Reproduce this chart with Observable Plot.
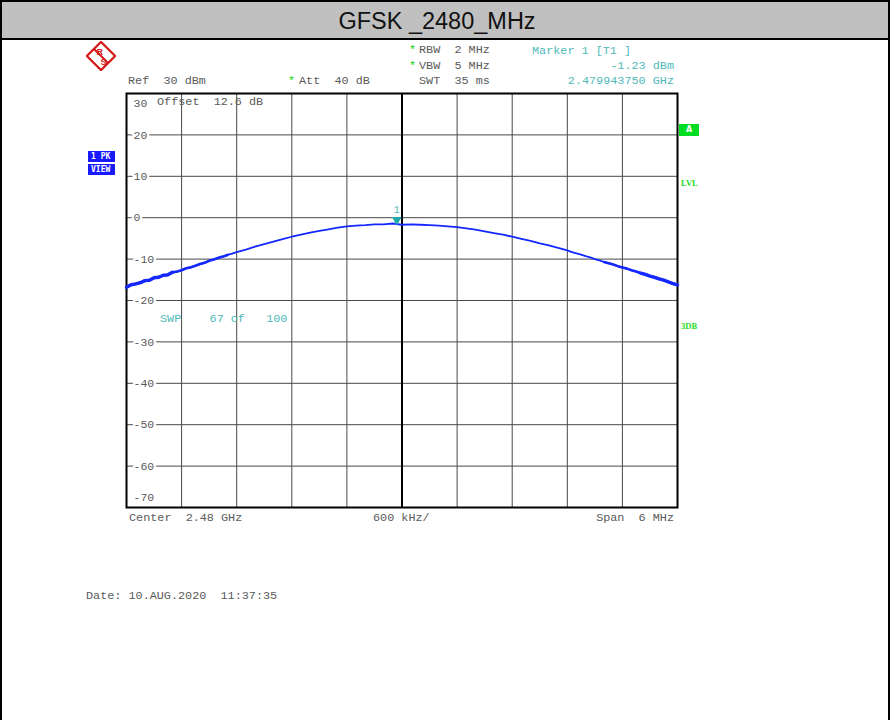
<!DOCTYPE html>
<html><head><meta charset="utf-8">
<script src="https://cdn.jsdelivr.net/npm/d3@7"></script>
<script src="https://cdn.jsdelivr.net/npm/@observablehq/plot@0.6"></script>
<style>
html,body{margin:0;padding:0;background:#fff;}
#page{position:relative;width:890px;height:720px;overflow:hidden;background:#fff;}
.edge{position:absolute;top:0;height:720px;width:2px;background:#000;z-index:3;}
#title{position:absolute;left:0;top:0;width:890px;height:40px;box-sizing:border-box;background:#c0c0c0;border-top:2px solid #000;border-bottom:2px solid #000;z-index:2;}
#title span{position:absolute;left:437px;top:19px;transform:translate(-50%,-50%);font-family:"Liberation Sans",Arial,sans-serif;font-size:23.5px;color:#111;white-space:nowrap;}
#chart{position:absolute;left:0;top:0;z-index:1;}
.t{position:absolute;font-family:"Liberation Mono",monospace;font-size:11.8px;line-height:12px;white-space:pre;color:#5a5a5a;transform:translateY(-50%);z-index:4;}
.teal{color:#4fb9b9;}
.star{color:#10d010;}
.box{position:absolute;font-family:"DejaVu Sans Mono",monospace;font-weight:bold;font-size:8px;line-height:11px;color:#fff;background:#1a1aff;text-align:left;padding-left:3px;box-sizing:border-box;z-index:4;}
.gbox{position:absolute;font-family:"DejaVu Sans",sans-serif;font-weight:bold;font-size:8px;color:#fff;background:#00dd22;text-align:center;z-index:4;}
.glab{position:absolute;font-family:"Liberation Serif",serif;font-weight:bold;font-size:8.5px;color:#22dd22;transform:translateY(-50%);z-index:4;}
</style></head>
<body>
<div id="page">
  <div id="title"><span>GFSK _2480_MHz</span></div>
  <div class="edge" style="left:0"></div>
  <div class="edge" style="left:888px"></div>
  <svg style="position:absolute;left:86px;top:41px;z-index:4" width="30" height="30" viewBox="0 0 30 30">
    <g transform="rotate(45 15 15)" fill="none" stroke="#d41a1a">
      <rect x="5" y="5" width="20" height="20" stroke-width="2.2"/>
      <line x1="5" y1="15" x2="25" y2="15" stroke-width="2"/>
    </g>
    <text x="10.5" y="14" font-family="Liberation Sans" font-size="9" font-weight="bold" fill="#d41a1a">R</text>
    <text x="14.5" y="24" font-family="Liberation Sans" font-size="9" font-weight="bold" fill="#d41a1a">S</text>
  </svg>
  <div id="chart"></div>
</div>
<script>
// ---- data ----
const freqOffsetMHz = [
  -3.00,-2.95,-2.90,-2.85,-2.80,-2.75,-2.70,-2.65,-2.60,-2.55,-2.50,-2.45,-2.40,-2.35,-2.30,-2.25,-2.20,-2.15,-2.10,-2.05,-2.00,-1.95,-1.90,-1.85,-1.80,
  -1.7,-1.6,-1.5,-1.4,-1.3,-1.2,-1.1,-1.0,-0.9,-0.8,-0.7,-0.6,-0.5,-0.4,-0.3,-0.2,-0.1,0.0,0.1,0.2,0.3,0.4,0.5,0.6,0.7,0.8,0.9,1.0,1.1,1.2,1.3,1.4,1.5,
  1.60,1.65,1.70,1.75,1.80,1.85,1.90,1.95,2.00,2.05,2.10,2.15,2.20,2.25,2.30,2.35,2.40,2.45,2.50,2.55,2.60,2.65,2.70,2.75,2.80,2.85,2.90,2.95,3.00
];
const levelDbm = [
  -16.8,-16.2,-16.0,-15.7,-15.2,-15.1,-14.5,-14.4,-13.9,-13.8,-13.2,-13.0,-12.7,-12.2,-12.0,-11.6,-11.2,-10.9,-10.4,-10.1,-9.7,-9.4,-9.0,-8.7,-8.3,
  -7.7,-7.0,-6.4,-5.8,-5.2,-4.6,-4.1,-3.6,-3.2,-2.8,-2.4,-2.1,-1.9,-1.8,-1.6,-1.6,-1.4,-1.7,-1.6,-1.7,-1.8,-1.9,-2.1,-2.3,-2.6,-2.9,-3.3,-3.7,-4.1,-4.6,-5.1,-5.6,-6.2,
  -6.7,-7.0,-7.3,-7.6,-7.9,-8.3,-8.6,-8.9,-9.3,-9.6,-10.0,-10.3,-10.7,-11.0,-11.3,-11.7,-12.0,-12.3,-12.7,-13.0,-13.4,-13.7,-14.1,-14.4,-14.8,-15.1,-15.5,-15.9,-16.2
];
const yGridDb = [20, 10, 0, -10, -20, -30, -40, -50, -60];
const xGridMHz = [-2.4, -1.8, -1.2, -0.6, 0.6, 1.2, 1.8, 2.4];
const xCenterMHz = [0];
const yTopLabel = [30];
const yBottomLabel = [-70];
const markerFreqMHz = [-0.05625];
const markerLevelDbm = [-1.23];

const trace = freqOffsetMHz.map((f, i) => ({f, level: levelDbm[i]}));
const marker = markerFreqMHz.map((f, i) => ({f, level: markerLevelDbm[i]}));

const labelFont = {fontFamily: "Liberation Mono, monospace", fontSize: 11.5, fill: "#5a5a5a", textAnchor: "start"};

const chart = Plot.plot({
  width: 890, height: 720,
  marginLeft: 126, marginRight: 213, marginTop: 93, marginBottom: 213,
  x: {domain: [-3, 3], axis: null},
  y: {domain: [-70, 30], axis: null},
  style: {background: "transparent", overflow: "visible"},
  marks: [
    Plot.ruleX(xGridMHz, {stroke: "#484848", strokeWidth: 1}),
    Plot.ruleY(yGridDb, {stroke: "#484848", strokeWidth: 1}),
    Plot.ruleX(xCenterMHz, {stroke: "#000", strokeWidth: 2}),
    Plot.text(yGridDb, {x: -3, y: d => d, text: d => String(d), dx: 7, stroke: "white", strokeWidth: 5, paintOrder: "stroke", ...labelFont}),
    Plot.text(yTopLabel, {x: -3, y: d => d, text: d => String(d), dx: 7, dy: 10, ...labelFont}),
    Plot.text(yBottomLabel, {x: -3, y: d => d, text: d => String(d), dx: 7, dy: -10, ...labelFont}),
    Plot.frame({stroke: "#000", strokeWidth: 2}),
    Plot.line(trace, {x: "f", y: "level", stroke: "#1428ff", strokeWidth: 1.8}),
    Plot.line(trace, {filter: d => d.f <= -1.9, x: "f", y: "level", stroke: "#1428ff", strokeWidth: 2.6}),
    Plot.line(trace, {filter: d => d.f <= -2.5, x: "f", y: "level", stroke: "#1428ff", strokeWidth: 3.4}),
    Plot.line(trace, {filter: d => d.f >= 2.2, x: "f", y: "level", stroke: "#1428ff", strokeWidth: 2.6}),
    Plot.line(trace, {filter: d => d.f >= 2.6, x: "f", y: "level", stroke: "#1428ff", strokeWidth: 3.4}),
    Plot.dot(marker, {x: "f", y: "level", symbol: "triangle", rotate: 180, r: 3.6, dy: -3, fill: "#1fa9a9", stroke: "none"}),
    Plot.text(marker, {x: "f", y: "level", text: () => "1", dy: -13, fill: "#4fb9b9", fontFamily: "Liberation Mono, monospace", fontSize: 10})
  ]
});
document.getElementById("chart").appendChild(chart);

// ---- instrument annotations ----
const page = document.getElementById("page");
function lab(txt, x, y, cls, right) {
  const d = document.createElement("div");
  d.className = "t " + (cls || "");
  d.textContent = txt;
  if (right) d.style.right = (890 - x) + "px"; else d.style.left = x + "px";
  d.style.top = y + "px";
  page.appendChild(d);
}
lab("*", 409, 50, "star"); lab("RBW  2 MHz", 419, 50);
lab("*", 409, 66, "star"); lab("VBW  5 MHz", 419, 66);
lab("SWT  35 ms", 419, 81);
lab("Marker 1 [T1 ]", 532, 51, "teal");
lab("-1.23 dBm", 674, 66, "teal", true);
lab("2.479943750 GHz", 674, 81, "teal", true);
lab("Ref  30 dBm", 128, 81);
lab("*", 288, 81, "star"); lab("Att  40 dB", 299, 81);
lab("Offset  12.6 dB", 157, 102);
lab("SWP    67 of   100", 160, 319, "teal");
lab("Center  2.48 GHz", 129, 518);
lab("600 kHz/", 373, 518);
lab("Span  6 MHz", 674, 518, "", true);
lab("Date: 10.AUG.2020  11:37:35", 86, 596);

function box(txt, x, y, w, h, cls) {
  const d = document.createElement("div");
  d.className = cls; d.textContent = txt;
  Object.assign(d.style, {left: x + "px", top: y + "px", width: w + "px", height: h + "px", lineHeight: h + "px"});
  page.appendChild(d);
}
box("1 PK", 88, 151, 27, 11, "box");
box("VIEW", 88, 164, 27, 11, "box");
box("A", 679, 124, 20, 12, "gbox");
function glab(txt, x, y) {
  const d = document.createElement("div");
  d.className = "glab"; d.textContent = txt;
  d.style.left = x + "px"; d.style.top = y + "px";
  page.appendChild(d);
}
glab("LVL", 681, 183);
glab("3DB", 681, 326);
</script>
</body></html>
